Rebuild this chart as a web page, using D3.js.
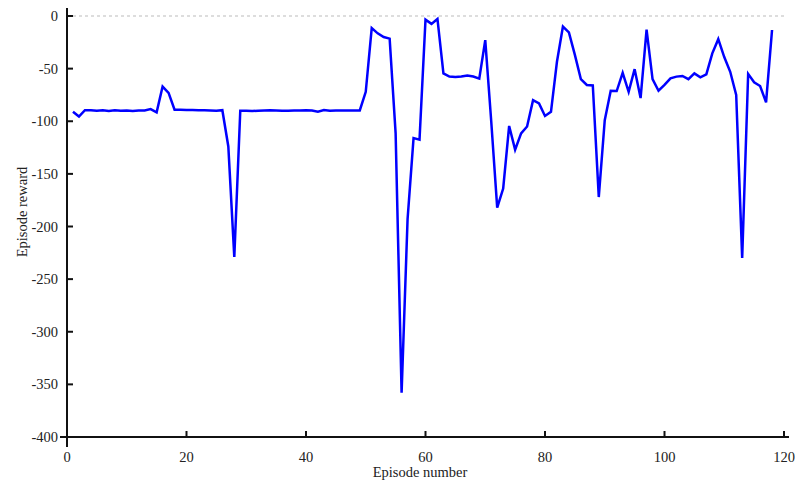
<!DOCTYPE html>
<html>
<head>
<meta charset="utf-8">
<script src="https://cdn.jsdelivr.net/npm/d3@7"></script>
<style>
  body { margin: 0; background: #fff; }
  text { font-family: "Liberation Serif", "DejaVu Serif", serif; fill: #222; }
</style>
</head>
<body>
<div id="chart"></div>
<script>
// episode rewards, episodes 1..118
var rewards = [
  -91, -95.5, -89.5, -89.5, -90, -89.5, -90.3, -89.6, -90, -89.8,
  -90.2, -89.7, -89.8, -88.5, -91.5, -67, -73, -89, -89, -89.2,
  -89.3, -89.5, -89.6, -89.8, -90, -89.5, -124, -229, -90, -90,
  -90.3, -90, -89.8, -89.5, -89.7, -90, -90, -89.8, -89.7, -89.6,
  -89.8, -91, -89.3, -90, -89.7, -89.7, -89.7, -89.7, -89.7, -72,
  -11.5, -16.5, -20, -21.5, -111.5, -358, -193, -116, -117.5, -3.5,
  -7.5, -2.8, -54.5, -57.5, -58, -57.5, -56.5, -57.5, -59.5, -23,
  -100, -182, -164, -104.5, -127, -111.5, -105, -80, -83, -95,
  -91, -43.5, -10, -15.5, -37, -60, -65.5, -66, -172, -99,
  -71, -71.3, -54, -72, -50.5, -78, -13, -60, -71, -65.5,
  -59.2, -57.6, -57, -60, -54.5, -58.3, -55.4, -35.5, -22, -39,
  -53, -75, -230, -55, -63, -66.5, -82, -13.3
];
var episodes = rewards.map(function (d, i) { return i + 1; });
var xTicks = [0, 20, 40, 60, 80, 100, 120];
var yTicks = [0, -50, -100, -150, -200, -250, -300, -350, -400];

var W = 795, H = 482;
var svg = d3.select("#chart").append("svg").attr("width", W).attr("height", H);

var x = d3.scaleLinear().domain([0, 120]).range([67, 784]);
var y = d3.scaleLinear().domain([-400, 0]).range([437, 16]);

// zero reference line
svg.append("line")
    .attr("x1", x(0)).attr("x2", 787)
    .attr("y1", y(0)).attr("y2", y(0))
    .attr("stroke", "#bbb").attr("stroke-width", 1)
    .attr("stroke-dasharray", "3,3");

// axes lines
svg.append("line").attr("x1", x(0)).attr("x2", x(0)).attr("y1", 8).attr("y2", 447)
    .attr("stroke", "#111").attr("stroke-width", 2);
svg.append("line").attr("x1", 60).attr("x2", 789).attr("y1", y(-400)).attr("y2", y(-400))
    .attr("stroke", "#111").attr("stroke-width", 2);

// y ticks
yTicks.forEach(function (t) {
    if (t !== -400) {
        svg.append("line").attr("x1", x(0)).attr("x2", x(0) + 6)
            .attr("y1", y(t)).attr("y2", y(t))
            .attr("stroke", "#111").attr("stroke-width", 2);
    }
    svg.append("text").attr("x", 58).attr("y", y(t) + 5)
        .attr("text-anchor", "end").style("font-size", "14.5px").text(t);
});

// x ticks
xTicks.forEach(function (t) {
    if (t !== 0) {
        svg.append("line").attr("x1", x(t)).attr("x2", x(t))
            .attr("y1", y(-400)).attr("y2", y(-400) - 6)
            .attr("stroke", "#111").attr("stroke-width", 2);
    }
    svg.append("text").attr("x", x(t)).attr("y", 462)
        .attr("text-anchor", "middle").style("font-size", "14.5px").text(t);
});

// axis titles
svg.append("text").attr("x", 420).attr("y", 477)
    .attr("text-anchor", "middle").style("font-size", "14.5px").text("Episode number");
svg.append("text").attr("transform", "translate(27,212) rotate(-90)")
    .attr("text-anchor", "middle").style("font-size", "14.5px").text("Episode reward");

// reward line
var line = d3.line()
    .x(function (d, i) { return x(episodes[i]); })
    .y(function (d) { return y(d); });

svg.append("path").datum(rewards)
    .attr("d", line)
    .attr("fill", "none")
    .attr("stroke", "#0000ff")
    .attr("stroke-width", 2.5)
    .attr("stroke-linejoin", "miter");
</script>
</body>
</html>
